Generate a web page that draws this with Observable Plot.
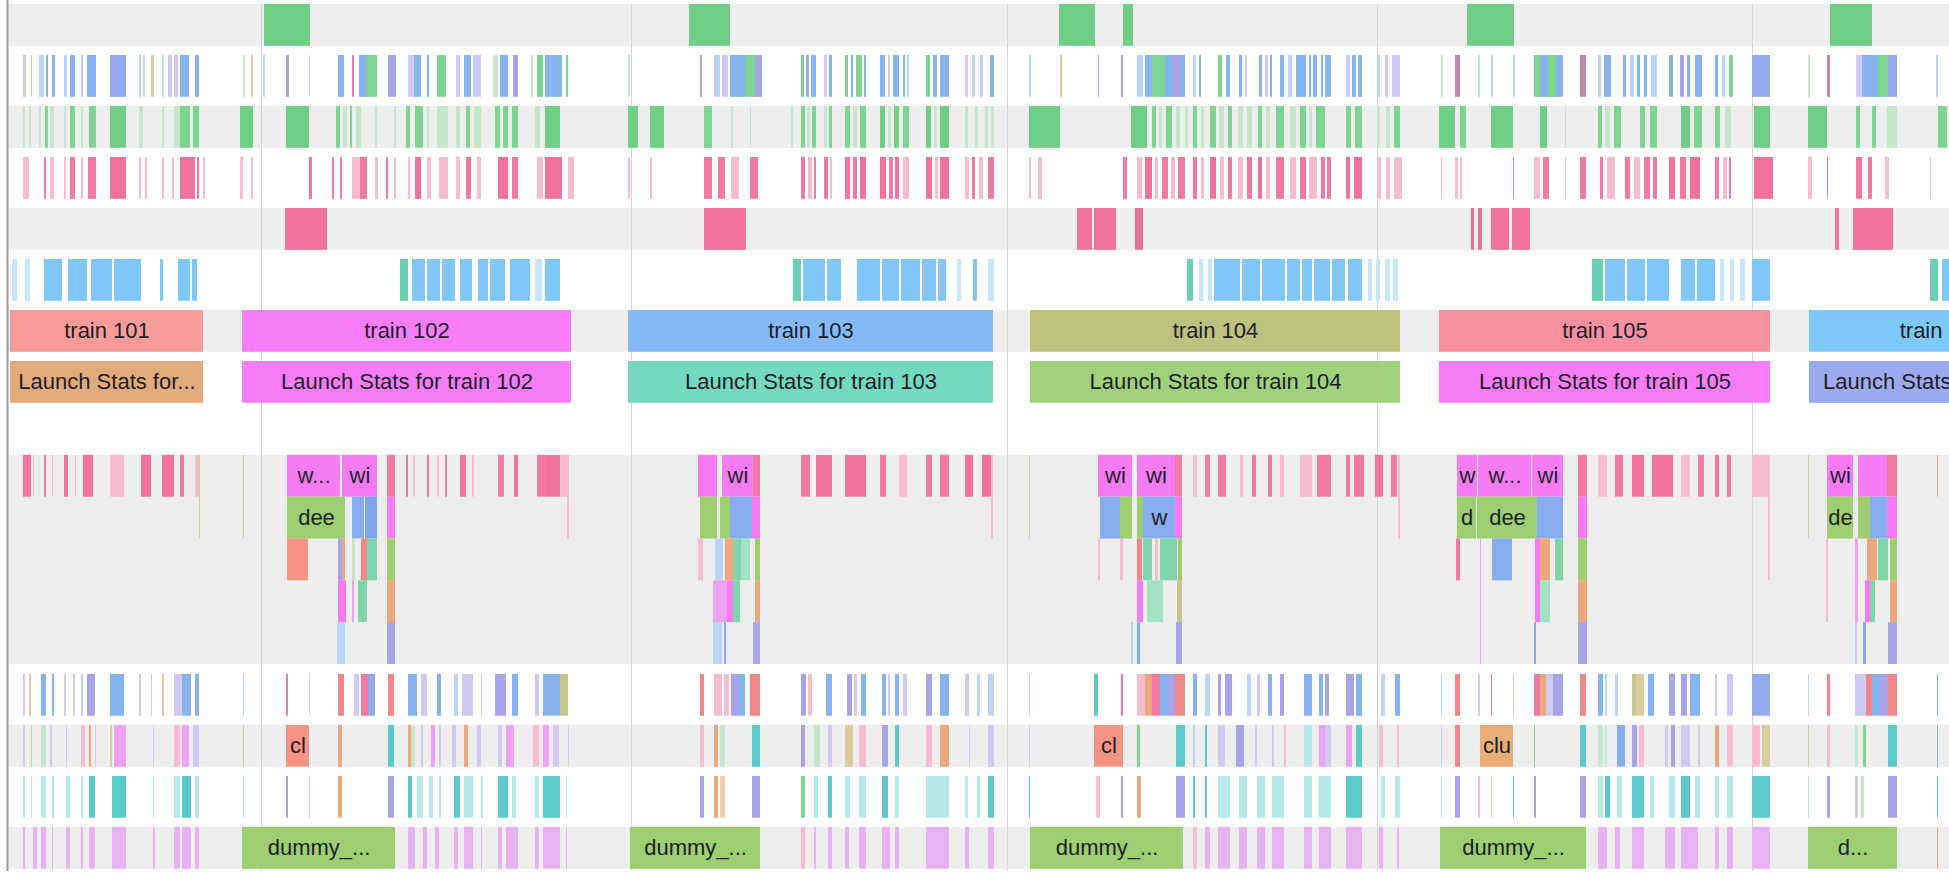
<!DOCTYPE html>
<html>
<head>
<meta charset="utf-8">
<script src="https://cdn.jsdelivr.net/npm/d3@7"></script>
<script src="https://cdn.jsdelivr.net/npm/@observablehq/plot@0.6"></script>
<style>
  html, body { margin: 0; padding: 0; background: #fff; overflow: hidden; }
  svg { overflow: hidden !important; display: block; }
</style>
</head>
<body>
<div id="chart"></div>
<script>
// ---------------- DATA (time in ms from trace start) ----------------
const gridLines = [261, 631, 1007, 1377, 1752];

const trainNames  = ["train 101", "train 102", "train 103", "train 104", "train 105", "train 106"];
const trainStart  = [10, 242, 628, 1030, 1439, 1809];
const trainEnd    = [203, 571, 993, 1400, 1770, 2075];
const launchLabels = ["Launch Stats for...", "Launch Stats for train 102", "Launch Stats for train 103",
                      "Launch Stats for train 104", "Launch Stats for train 105", "Launch Stats for train 106"];
const launchEnd   = [203, 571, 993, 1400, 1770, 2088];

// track 0: GC-like green slices
const row0 = [[264,310,"G"],[689,730,"G"],[1059,1095,"G"],[1123,1133,"G"],[1467,1514,"G"],[1830,1872,"G"]];

const row1 = [
 [23,26,"gy"],[31,32,"be"],[39,44,"lb"],[46,48,"b"],[52,55,"b"],[64,67,"lb"],[70,75,"b"],[81,83,"lp"],[87,96,"b"],[110,126,"bp"],
 [139,141,"lp"],[143,145,"lg"],[151,154,"be"],[162,164,"lg"],[168,172,"lp"],[174,178,"lp"],[180,189,"b"],[195,199,"b"],
 [243,245,"lg"],[251,253,"be"],[263,265,"lb"],[286,289,"pu"],[309,310,"lg"],[338,344,"b"],[352,354,"pk"],[359,366,"b"],[366,377,"g"],
 [388,396,"pu"],[408,414,"lp"],[414,421,"b"],[427,429,"b"],[437,446,"g"],[456,460,"lp"],[464,471,"b"],[473,481,"lp"],[493,498,"lg"],
 [500,508,"b"],[513,518,"pu"],[531,533,"lg"],[537,543,"g"],[545,562,"b"],[566,568,"g"],[628,630,"lg"],
 [700,702,"pu"],[714,720,"lb"],[722,728,"lp"],[730,745,"b"],[745,755,"g"],[755,762,"pu"],[801,804,"g"],[806,809,"pu"],[811,816,"b"],
 [824,827,"lp"],[829,832,"b"],[845,848,"g"],[851,853,"b"],[856,862,"g"],[864,866,"b"],[880,885,"b"],[888,890,"lp"],[893,899,"b"],
 [903,905,"b"],[907,909,"lb"],[926,930,"g"],[933,937,"b"],[940,949,"b"],[965,968,"lp"],[972,975,"lb"],[980,983,"lb"],[990,994,"b"],
 [1029,1031,"lb"],[1060,1062,"be"],[1098,1099,"pu"],[1121,1123,"pu"],[1137,1143,"lb"],[1145,1152,"b"],[1152,1165,"g"],[1165,1172,"b"],
 [1172,1180,"pu"],[1180,1185,"b"],[1193,1196,"lb"],[1199,1201,"b"],[1218,1222,"g"],[1226,1230,"b"],[1239,1242,"b"],[1245,1247,"lb"],
 [1259,1262,"b"],[1265,1268,"lp"],[1270,1272,"b"],[1280,1284,"b"],[1288,1292,"lb"],[1296,1306,"b"],[1309,1311,"b"],[1313,1317,"b"],
 [1321,1323,"b"],[1325,1331,"b"],[1346,1350,"lp"],[1352,1356,"b"],[1358,1362,"b"],[1377,1380,"lb"],[1385,1388,"lp"],[1392,1400,"lp"],
 [1441,1443,"lg"],[1455,1460,"mv"],[1478,1480,"lg"],[1491,1493,"lb"],[1513,1515,"lb"],[1534,1540,"g"],[1540,1548,"b"],[1548,1556,"g"],
 [1556,1563,"b"],[1580,1586,"mv"],[1598,1601,"lb"],[1604,1611,"b"],[1623,1626,"b"],[1630,1634,"lb"],[1637,1640,"b"],[1644,1647,"b"],
 [1651,1657,"lb"],[1669,1673,"b"],[1680,1684,"pu"],[1687,1690,"b"],[1695,1702,"b"],[1715,1718,"b"],[1722,1725,"lb"],[1729,1733,"g"],
 [1752,1770,"bp"],[1808,1810,"lg"],[1827,1830,"mv"],[1856,1862,"lp"],[1862,1878,"b"],[1878,1888,"g"],[1888,1897,"bp"],[1936,1938,"lb"]
];

const row2 = [
 [23,25,"lg"],[29,31,"lg"],[39,41,"lg"],[45,48,"g"],[50,54,"lg"],[64,66,"lg"],[70,75,"g"],[81,83,"lg"],[89,96,"g"],[110,126,"G"],
 [139,143,"lg"],[162,164,"lg"],[174,180,"lg"],[180,190,"g"],[193,199,"g"],[240,253,"G"],[286,309,"G"],[336,340,"g"],[343,347,"lg"],
 [350,352,"g"],[356,361,"lg"],[375,377,"lg"],[394,396,"lg"],[406,410,"g"],[415,423,"g"],[427,429,"lg"],[437,448,"lg"],[456,460,"lg"],
 [466,470,"g"],[474,481,"lg"],[495,500,"g"],[503,508,"g"],[512,518,"g"],[535,540,"lg"],[545,560,"G"],[628,638,"G"],
 [650,664,"G"],[704,712,"g"],[731,733,"lg"],[750,751,"lg"],[791,793,"lg"],[801,805,"g"],[807,810,"lg"],[812,816,"g"],[824,827,"lg"],
 [829,832,"g"],[845,850,"g"],[853,857,"lg"],[860,866,"g"],[880,885,"G"],[888,891,"lg"],[894,899,"G"],[903,909,"g"],[926,931,"G"],
 [934,937,"lg"],[940,949,"G"],[965,968,"lg"],[975,978,"lg"],[985,988,"lg"],[991,994,"lg"],
 [1029,1060,"G"],[1131,1147,"G"],[1152,1156,"g"],[1159,1162,"lg"],[1166,1172,"g"],[1176,1180,"lg"],[1185,1188,"lg"],[1193,1197,"g"],
 [1201,1204,"lg"],[1210,1216,"g"],[1219,1224,"lg"],[1228,1232,"g"],[1238,1243,"lg"],[1247,1252,"lg"],[1258,1262,"g"],[1266,1270,"lg"],
 [1276,1284,"g"],[1290,1296,"lg"],[1300,1306,"g"],[1309,1312,"lg"],[1316,1325,"g"],[1346,1351,"g"],[1355,1362,"g"],[1377,1380,"lg"],
 [1386,1390,"lg"],[1394,1400,"g"],[1439,1455,"G"],[1460,1466,"g"],[1491,1513,"G"],[1540,1547,"G"],[1565,1566,"lg"],[1598,1602,"g"],
 [1605,1610,"lg"],[1614,1621,"g"],[1640,1645,"g"],[1650,1657,"g"],[1681,1690,"G"],[1694,1702,"g"],[1715,1720,"g"],[1725,1731,"lg"],
 [1754,1770,"G"],[1808,1827,"G"],[1856,1860,"g"],[1872,1876,"g"],[1887,1897,"lg"],[1938,1947,"g"]
];

const row3 = [
 [23,29,"lpk"],[44,46,"pk"],[50,54,"lpk"],[64,66,"lpk"],[70,75,"pk"],[81,83,"lpk"],[88,96,"pk"],[110,126,"PK"],[139,141,"lpk"],
 [145,147,"lpk"],[162,164,"lpk"],[172,174,"lpk"],[180,195,"PK"],[197,199,"pk"],[203,205,"lpk"],[240,243,"lpk"],[251,253,"lpk"],
 [309,312,"PK"],[332,334,"pk"],[340,342,"pk"],[352,360,"lpk"],[360,367,"pk"],[375,378,"lpk"],[386,388,"pk"],[394,396,"lpk"],
 [408,410,"lpk"],[415,421,"PK"],[427,431,"lpk"],[439,448,"lpk"],[456,460,"lpk"],[466,471,"pk"],[477,481,"lpk"],[498,508,"PK"],
 [512,518,"pk"],[537,543,"lpk"],[545,562,"PK"],[568,574,"lpk"],[628,630,"lpk"],
 [650,652,"lpk"],[704,712,"pk"],[718,725,"pk"],[731,739,"lpk"],[750,758,"pk"],[801,805,"pk"],[808,812,"lpk"],[814,816,"pk"],
 [824,828,"pk"],[830,832,"lpk"],[845,850,"PK"],[853,857,"pk"],[860,866,"PK"],[880,886,"PK"],[889,893,"pk"],[895,899,"PK"],
 [903,909,"lpk"],[926,932,"PK"],[935,938,"lpk"],[940,949,"PK"],[965,969,"lpk"],[972,975,"pk"],[979,983,"lpk"],[988,994,"pk"],
 [1029,1031,"lpk"],[1038,1042,"lpk"],[1123,1127,"pk"],[1137,1142,"lpk"],[1145,1152,"PK"],[1155,1158,"lpk"],[1162,1168,"pk"],
 [1171,1175,"lpk"],[1178,1185,"pk"],[1193,1197,"pk"],[1201,1204,"lpk"],[1210,1216,"PK"],[1220,1224,"lpk"],[1228,1232,"pk"],
 [1238,1243,"lpk"],[1247,1252,"pk"],[1258,1262,"PK"],[1266,1270,"lpk"],[1276,1284,"pk"],[1290,1296,"lpk"],[1300,1306,"pk"],
 [1309,1317,"lpk"],[1321,1325,"pk"],[1327,1331,"pk"],[1346,1350,"PK"],[1354,1362,"PK"],[1377,1381,"lpk"],[1386,1390,"lpk"],
 [1394,1402,"lpk"],[1441,1442,"lpk"],[1455,1458,"lpk"],[1460,1462,"lpk"],[1513,1514,"pk"],[1534,1540,"lpk"],[1543,1549,"pk"],
 [1565,1566,"lpk"],[1580,1586,"pk"],[1600,1603,"pk"],[1607,1615,"lpk"],[1625,1630,"pk"],[1634,1640,"lpk"],[1644,1650,"pk"],
 [1653,1657,"pk"],[1669,1675,"PK"],[1680,1686,"pk"],[1690,1700,"PK"],[1715,1719,"pk"],[1723,1727,"lpk"],[1729,1731,"pk"],
 [1754,1773,"PK"],[1808,1812,"lpk"],[1827,1828,"pk"],[1856,1862,"pk"],[1868,1872,"pk"],[1885,1889,"lpk"],[1930,1931,"lpk"]
];

const row4 = [[285,327,"PK"],[704,746,"PK"],[1077,1092,"PK"],[1094,1116,"PK"],[1135,1143,"DK"],
              [1471,1474,"DK"],[1478,1482,"DK"],[1491,1509,"PK"],[1512,1530,"PK"],[1835,1839,"PK"],[1853,1893,"PK"]];

const row5 = [
 [12,17,"lb5"],[25,30,"lb5"],[44,62,"b5"],[68,87,"b5"],[91,112,"b5"],[114,141,"b5"],[160,163,"b5"],[178,190,"b5"],[192,197,"b5"],
 [400,408,"t5"],[412,425,"b5"],[427,440,"b5"],[442,455,"b5"],[460,472,"b5"],[478,488,"b5"],[490,505,"b5"],[510,530,"b5"],
 [535,542,"lb5"],[545,560,"b5"],
 [793,801,"t5"],[803,825,"b5"],[827,841,"b5"],[857,880,"b5"],[882,899,"b5"],[901,920,"b5"],[922,936,"b5"],[938,946,"b5"],
 [957,961,"lb5"],[973,977,"b5"],[988,994,"lb5"],
 [1187,1193,"t5"],[1199,1203,"lb5"],[1208,1212,"lb5"],[1214,1240,"b5"],[1242,1260,"b5"],[1262,1285,"b5"],[1287,1300,"b5"],
 [1302,1312,"b5"],[1314,1330,"b5"],[1332,1345,"b5"],[1348,1362,"b5"],[1368,1372,"lb5"],[1376,1380,"lb5"],[1385,1390,"lb5"],[1393,1398,"lb5"],
 [1592,1603,"t5"],[1605,1625,"b5"],[1627,1645,"b5"],[1647,1669,"b5"],[1681,1695,"b5"],[1697,1715,"b5"],[1720,1724,"lb5"],
 [1730,1734,"lb5"],[1740,1745,"lb5"],[1752,1770,"b5"],[1930,1938,"t5"],[1942,1949,"b5"]
];

// flame chart slices: [fromDepth, toDepth, start, end, colour, label]
const flame = [
 [0,0,23,31,"PK"],[0,0,33,34,"lpk"],[0,0,44,46,"pk"],[0,0,52,53,"lpk"],[0,0,64,68,"PK"],[0,0,75,76,"lpk"],[0,0,83,93,"PK"],
 [0,0,110,124,"lpk"],[0,0,141,151,"PK"],[0,0,162,174,"PK"],[0,0,180,184,"pk"],[0,0,195,199,"lpk"],[0,1,199,200,"be"],[0,1,243,244,"be"],
 [0,0,406,408,"PK"],[0,0,413,415,"lpk"],[0,0,427,429,"pk"],[0,0,437,439,"lpk"],[0,0,445,447,"pk"],[0,0,460,466,"PK"],[0,0,472,474,"lpk"],
 [0,0,498,504,"pk"],[0,0,514,518,"PK"],[0,0,537,545,"pk"],[0,0,545,560,"PK"],[0,0,560,567,"lpk"],[0,1,567,569,"lpk"],
 [0,0,801,810,"pk"],[0,0,816,832,"PK"],[0,0,845,866,"PK"],[0,0,880,886,"pk"],[0,0,899,907,"lpk"],[0,0,926,932,"pk"],[0,0,940,949,"pk"],
 [0,0,965,973,"PK"],[0,0,982,991,"PK"],[0,1,991,993,"lpk"],[0,1,1029,1030,"be"],
 [0,0,1193,1197,"lpk"],[0,0,1205,1210,"pk"],[0,0,1218,1226,"pk"],[0,0,1240,1243,"lpk"],[0,0,1252,1256,"pk"],[0,0,1268,1272,"pk"],
 [0,0,1280,1284,"lpk"],[0,0,1300,1312,"lpk"],[0,0,1317,1331,"pk"],[0,0,1346,1350,"pk"],[0,0,1354,1364,"pk"],[0,0,1375,1383,"PK"],
 [0,0,1391,1397,"pk"],[0,1,1398,1400,"lpk"],[0,0,1598,1607,"lpk"],[0,0,1615,1623,"pk"],[0,0,1632,1644,"PK"],[0,0,1652,1673,"PK"],
 [0,0,1681,1690,"lpk"],[0,0,1698,1704,"pk"],[0,0,1715,1719,"pk"],[0,0,1727,1731,"pk"],[0,0,1752,1768,"lpk"],[0,2,1768,1770,"lpk"],
 [0,1,1808,1809,"be"],[0,0,1937,1938,"o"],
 // burst 1
 [0,0,287,340,"m","w..."],[0,0,342,377,"m","wi"],[0,0,387,395,"pk"],
 [1,1,287,345,"gr","dee"],[1,1,352,364,"bl"],[1,1,365,377,"bl2"],[1,1,387,395,"m"],
 [2,2,287,308,"sa"],[2,2,338,342,"pu"],[2,2,342,345,"o"],[2,2,352,355,"lg"],[2,2,361,367,"r"],[2,2,367,377,"tg"],[2,2,387,395,"gr"],
 [3,3,338,346,"m"],[3,3,352,354,"lm"],[3,3,358,367,"tg"],[3,3,387,395,"o"],
 [4,4,337,345,"lb"],[4,4,387,395,"pu"],
 // burst 2
 [0,0,698,717,"m"],[0,0,722,753,"m","wi"],[0,0,753,760,"pk"],
 [1,1,700,717,"gr"],[1,1,720,730,"gr"],[1,1,730,752,"bl"],[1,1,752,760,"m"],
 [2,2,698,703,"lpk"],[2,2,715,723,"lb"],[2,2,725,733,"o"],[2,2,733,741,"tg"],[2,2,741,750,"tg2"],[2,2,755,760,"gr"],
 [3,3,713,727,"lm"],[3,3,727,733,"m"],[3,3,733,740,"tg"],[3,3,755,760,"o"],
 [4,4,713,722,"lb"],[4,4,724,726,"bl"],[4,4,753,760,"pu"],
 // burst 3
 [0,0,1098,1132,"m","wi"],[0,0,1137,1175,"m","wi"],[0,0,1175,1182,"pk"],
 [1,1,1100,1120,"bl"],[1,1,1120,1132,"gr"],[1,1,1137,1143,"gr"],[1,1,1143,1175,"bl","w"],[1,1,1175,1182,"m"],
 [2,2,1098,1100,"lpk"],[2,2,1120,1123,"lpk"],[2,2,1137,1142,"r"],[2,2,1143,1152,"tg"],[2,2,1155,1158,"lpk"],[2,2,1160,1177,"tg"],[2,2,1178,1182,"gr"],
 [3,3,1137,1143,"m"],[3,3,1147,1163,"tg2"],[3,3,1177,1182,"ol"],
 [4,4,1131,1133,"lb"],[4,4,1137,1140,"bl"],[4,4,1176,1182,"pu"],
 // burst 4
 [0,0,1457,1477,"m","w"],[0,0,1478,1531,"m","w..."],[0,0,1532,1563,"m","wi"],[0,0,1578,1587,"pk"],
 [1,1,1457,1476,"gr","d"],[1,1,1477,1537,"gr","dee"],[1,1,1537,1563,"bl"],[1,1,1578,1587,"m"],
 [2,2,1456,1460,"pk"],[2,4,1480,1481,"lm"],[2,2,1492,1512,"bl"],[2,3,1535,1540,"m"],[2,2,1540,1550,"o"],[2,2,1555,1563,"tg"],[2,2,1578,1587,"gr"],
 [3,3,1540,1550,"tg2"],[3,3,1578,1587,"o"],
 [4,4,1534,1536,"bl"],[4,4,1578,1587,"pu"],
 // burst 5
 [0,0,1827,1853,"m","wi"],[0,0,1858,1887,"m"],[0,0,1887,1897,"pk"],
 [1,1,1827,1853,"gr","de"],[1,1,1858,1870,"gr"],[1,1,1870,1887,"bl"],[1,1,1887,1897,"m"],
 [2,3,1826,1828,"lpk"],[2,3,1855,1858,"lm"],[2,2,1867,1877,"o"],[2,2,1878,1888,"tg"],[2,2,1890,1897,"gr"],
 [3,3,1865,1870,"m"],[3,3,1870,1875,"tg"],[3,3,1890,1897,"o"],
 [4,4,1855,1857,"lb"],[4,4,1863,1866,"bl"],[4,4,1888,1897,"pu"]
];

const row9 = [
 [23,25,"lp"],[29,31,"be"],[41,46,"b"],[52,54,"b"],[64,66,"lp"],[73,75,"lp"],[81,83,"lp"],[87,95,"pu"],[110,124,"b"],[139,141,"lp"],
 [151,152,"lp"],[162,164,"be"],[174,182,"lp"],[182,191,"b"],[195,199,"b"],[243,244,"lb"],[286,288,"pk"],[309,310,"lg"],[338,344,"r"],
 [354,359,"lp"],[361,368,"pk"],[368,375,"bp"],[388,394,"r"],[408,417,"b"],[421,427,"lp"],[437,441,"b"],[454,458,"lb"],[462,473,"lp"],
 [481,482,"lp"],[495,506,"pu"],[512,518,"b"],[535,539,"lp"],[543,560,"b"],[560,568,"ol"],
 [700,704,"r"],[714,722,"lpk"],[724,729,"lpk"],[731,738,"pu"],[738,745,"b"],[750,760,"r"],[801,806,"pu"],[808,812,"lpk"],[826,832,"b"],
 [847,852,"pu"],[854,857,"lp"],[861,866,"b"],[882,886,"b"],[888,890,"lp"],[895,899,"b"],[903,907,"lp"],[926,932,"pu"],[940,949,"b"],
 [965,969,"lp"],[977,980,"lb"],[988,994,"lb"],[1029,1030,"lb"],[1094,1098,"t"],[1121,1123,"pk"],[1137,1145,"lpk"],[1145,1152,"o"],
 [1152,1160,"pk"],[1160,1168,"b"],[1168,1175,"pu"],[1175,1185,"r"],[1193,1197,"b"],[1205,1210,"lb"],[1218,1221,"pu"],[1225,1232,"pu"],
 [1247,1251,"lb"],[1257,1260,"lp"],[1268,1272,"b"],[1280,1284,"pu"],[1304,1312,"b"],[1319,1323,"b"],[1325,1329,"pu"],[1346,1354,"pu"],
 [1356,1362,"b"],[1381,1385,"lb"],[1395,1400,"b"],[1441,1442,"lb"],[1455,1460,"r"],[1478,1480,"lp"],[1491,1492,"pk"],[1513,1514,"lb"],
 [1534,1540,"pk"],[1540,1546,"o"],[1546,1553,"lp"],[1553,1563,"pu"],[1580,1586,"r"],[1598,1603,"b"],[1605,1607,"lb"],[1615,1618,"lb"],
 [1632,1636,"ol"],[1636,1644,"be"],[1648,1654,"b"],[1669,1675,"pu"],[1681,1687,"pu"],[1690,1700,"b"],[1715,1717,"lp"],[1727,1733,"lp"],
 [1752,1770,"bp"],[1808,1809,"lb"],[1827,1830,"r"],[1855,1866,"lp"],[1866,1872,"r"],[1872,1880,"b"],[1880,1888,"pu"],[1888,1897,"r"],
 [1937,1938,"b"]
];

const row10 = [
 [23,25,"lp"],[31,32,"be"],[41,46,"lg"],[50,52,"lp"],[66,67,"lp"],[81,85,"lpk"],[89,91,"o"],[95,96,"lp"],[110,112,"be"],[114,126,"lm"],
 [153,154,"lp"],[174,180,"lpk"],[182,189,"lm"],[193,199,"lp"],[243,244,"be"],[286,309,"sa","cl"],[338,342,"o"],[388,394,"t"],
 [408,411,"o"],[411,415,"lg"],[421,423,"lp"],[431,435,"lm"],[439,441,"lp"],[452,456,"lp"],[464,468,"o"],[477,481,"lp"],[498,502,"lp"],
 [506,514,"lm"],[533,539,"lpk"],[543,549,"lm"],[553,559,"lp"],[568,569,"lp"],
 [700,704,"lpk"],[714,718,"o"],[720,725,"lg"],[752,760,"t"],[801,805,"pu"],[814,820,"lg"],[828,832,"lp"],[845,853,"be"],[859,866,"lpk"],
 [882,888,"pu"],[895,899,"t"],[926,932,"lpk"],[940,949,"o"],[969,970,"lp"],[988,994,"lp"],[1029,1030,"lp"],[1094,1123,"sa","cl"],
 [1137,1140,"g"],[1176,1185,"t"],[1193,1195,"lb"],[1205,1207,"t"],[1218,1225,"lp"],[1236,1244,"pu"],[1255,1257,"lp"],[1272,1274,"lp"],
 [1284,1286,"lpk"],[1304,1312,"lt"],[1319,1325,"lm"],[1325,1331,"lp"],[1346,1352,"lm"],[1356,1362,"t"],[1379,1383,"lpk"],[1397,1399,"lpk"],
 [1441,1442,"lp"],[1455,1460,"r"],[1480,1513,"ta","clu"],[1534,1535,"g"],[1580,1586,"t"],[1598,1603,"lg"],[1605,1607,"lt"],[1617,1625,"bl"],
 [1632,1637,"pu"],[1639,1644,"lpk"],[1665,1668,"lp"],[1671,1675,"pu"],[1681,1690,"lp"],[1698,1700,"lp"],[1715,1719,"o"],[1727,1733,"lpk"],
 [1752,1760,"lpk"],[1762,1770,"be"],[1808,1809,"be"],[1827,1830,"lpk"],[1855,1858,"lg"],[1863,1866,"g"],[1888,1897,"t"],[1937,1938,"b"]
];

const row11 = [
 [23,25,"lt"],[31,32,"lt"],[41,46,"lt"],[52,54,"lt"],[66,70,"lt"],[81,83,"lt"],[89,95,"t"],[112,126,"t"],[153,154,"lt"],[174,180,"lt"],
 [182,191,"t"],[195,199,"lt"],[243,244,"lt"],[286,288,"pu"],[309,310,"lpk"],[338,342,"ta"],[388,394,"pu"],[408,412,"t"],[417,423,"lt"],
 [429,433,"lt"],[439,441,"lt"],[454,460,"t"],[464,473,"lt"],[481,483,"lt"],[498,508,"t"],[512,516,"lt"],[535,539,"lt"],[543,560,"t"],
 [566,567,"lt"],
 [700,704,"pu"],[714,718,"o"],[720,725,"lo"],[752,760,"pu"],[801,805,"g"],[814,818,"lt"],[828,832,"t"],[845,850,"lt"],[859,866,"lt"],
 [882,888,"t"],[895,899,"lt"],[926,949,"lt"],[965,968,"lt"],[977,980,"lt"],[988,994,"t"],[1029,1030,"t"],[1096,1100,"lpk"],
 [1121,1123,"pu"],[1137,1141,"o"],[1176,1185,"pu"],[1193,1195,"t"],[1205,1207,"t"],[1218,1230,"lt"],[1239,1247,"lt"],[1257,1265,"lt"],
 [1272,1284,"lt"],[1304,1312,"lt"],[1319,1331,"lt"],[1346,1362,"t"],[1381,1385,"lt"],[1395,1400,"lt"],[1441,1442,"lt"],[1455,1460,"pu"],
 [1478,1480,"lpk"],[1491,1492,"lo"],[1513,1514,"t"],[1534,1536,"pu"],[1580,1586,"pu"],[1598,1603,"lt"],[1605,1610,"t"],[1617,1622,"lt"],
 [1632,1644,"t"],[1650,1654,"lt"],[1669,1675,"lt"],[1681,1690,"t"],[1695,1700,"lt"],[1715,1719,"lt"],[1727,1733,"lt"],[1752,1770,"t"],
 [1808,1809,"lt"],[1827,1830,"pu"],[1855,1858,"gy"],[1861,1864,"lg"],[1888,1897,"pu"],[1937,1938,"t"]
];

const row12 = [
 [23,25,"lmg"],[33,37,"lmg"],[41,46,"lmg"],[52,53,"lmg"],[66,70,"lmg"],[81,83,"lmg"],[89,95,"lmg"],[112,126,"lmg"],[153,155,"lmg"],
 [174,180,"lmg"],[182,191,"lmg"],[195,199,"lmg"],[242,395,"gr","dummy_..."],[408,415,"lmg"],[423,427,"lmg"],[435,439,"lmg"],
 [454,458,"lmg"],[464,473,"lmg"],[481,482,"lmg"],[498,502,"lmg"],[506,518,"lmg"],[535,539,"lmg"],[543,560,"lmg"],[566,567,"lmg"],
 [630,760,"gr","dummy_..."],[801,805,"lpk"],[814,816,"lmg"],[828,832,"lmg"],[845,849,"lmg"],[859,866,"lmg"],[882,890,"lmg"],
 [895,899,"lmg"],[926,949,"lmg"],[965,969,"lmg"],[988,994,"lmg"],[1030,1183,"gr","dummy_..."],[1193,1197,"lpk"],[1205,1210,"lmg"],
 [1218,1230,"lmg"],[1239,1247,"lmg"],[1257,1265,"lmg"],[1272,1284,"lmg"],[1304,1312,"lmg"],[1319,1331,"lmg"],[1346,1362,"lmg"],
 [1379,1383,"lmg"],[1397,1399,"lmg"],[1440,1586,"gr","dummy_..."],[1598,1607,"lmg"],[1615,1620,"lmg"],[1632,1644,"lmg"],
 [1665,1675,"lmg"],[1681,1698,"lmg"],[1715,1719,"lmg"],[1727,1733,"lmg"],[1752,1770,"lmg"],[1808,1897,"gr","d..."],[1937,1938,"o"]
];

// ---------------- STYLE ----------------
const palette = {
  m:"#f67bf5", pk:"#f27aa2", PK:"#f0729d", DK:"#e8739a", lpk:"#f8bcd0", gr:"#9dce70", bl:"#86adf0", bl2:"#7ca7ec",
  sa:"#f59485", pu:"#a9a4e8", o:"#eda77f", lo:"#f5cfb0", tg:"#80d6aa", tg2:"#a3e3c3", lm:"#eea2f4", lb:"#bad4f5", ol:"#c7c58e",
  r:"#f2878a", be:"#dccb9c", lg:"#c6e7cb", g:"#7fd492", G:"#70cf87", b:"#87b4ee", bp:"#94a8ee", lp:"#d0c9f4", gy:"#cfcfcf",
  mv:"#c08aa8", b5:"#80c7f9", lb5:"#c8e6fb", t5:"#6bcfb4", t:"#5ccaca", lt:"#b6eaea", lmg:"#e6b2f2", ta:"#e9ad76"
};
const trainColors  = ["#f79c96", "#f97df8", "#83b9f6", "#bec27f", "#f8919f", "#7fc9f8"];
const launchColors = ["#e3ab7c", "#f97df8", "#73d9c0", "#a0d27b", "#f97df8", "#9caaef"];
const BG = "#eeeeee";
const FONT = "Liberation Sans, Arial, Helvetica, sans-serif";

// ---------------- LAYOUT (lane units; 1 unit = one track pitch) ----------------
const BAR = 0.82;
const laneTop = {};
for (let i = 0; i <= 8; i++) laneTop["r" + i] = i;
const flameTop = 8 + BAR + 0.02;
for (let d = 0; d < 5; d++) laneTop["f" + d] = flameTop + BAR * d;
const lowTop = flameTop + 5 * BAR + 0.196;
["r9", "r10", "r11", "r12"].forEach((k, i) => laneTop[k] = lowTop + i);
const UNITS = 17;

const T0 = 7, T1 = 1949;
const bands = [
  {y1: laneTop.r0, y2: laneTop.r0 + BAR}, {y1: laneTop.r2, y2: laneTop.r2 + BAR},
  {y1: laneTop.r4, y2: laneTop.r4 + BAR}, {y1: laneTop.r6, y2: laneTop.r6 + BAR},
  {y1: flameTop, y2: flameTop + 5 * BAR}, {y1: laneTop.r10, y2: laneTop.r10 + BAR},
  {y1: laneTop.r12, y2: laneTop.r12 + BAR}
];

const slices = [];
const addRow = (lane, arr) => arr.forEach(([s, e, c, label]) =>
  slices.push({x1: s, x2: e, y1: laneTop[lane], y2: laneTop[lane] + BAR, fill: palette[c], label}));
addRow("r0", row0); addRow("r1", row1); addRow("r2", row2); addRow("r3", row3);
addRow("r4", row4); addRow("r5", row5);
addRow("r9", row9); addRow("r10", row10); addRow("r11", row11); addRow("r12", row12);
flame.forEach(([d0, d1, s, e, c, label]) =>
  slices.push({x1: s, x2: e, y1: laneTop["f" + d0], y2: laneTop["f" + d1] + BAR, fill: palette[c], label}));
trainNames.forEach((n, i) => {
  slices.push({x1: trainStart[i], x2: trainEnd[i], y1: laneTop.r6, y2: laneTop.r6 + BAR, fill: trainColors[i], label: n});
  slices.push({x1: trainStart[i], x2: launchEnd[i], y1: laneTop.r7, y2: laneTop.r7 + BAR, fill: launchColors[i], label: launchLabels[i]});
});
const labelled = slices.filter(d => d.label);

const chart = Plot.plot({
  width: 1949,
  height: 874,
  margin: 0,
  style: {background: "#ffffff", overflow: "hidden"},
  x: {domain: [0, 1949], range: [0, 1949], axis: null},
  y: {domain: [0, UNITS], range: [4, 4 + 51 * UNITS], axis: null},
  marks: [
    Plot.rect(bands, {x1: T0, x2: T1, y1: "y1", y2: "y2", fill: BG}),
    Plot.ruleX(gridLines, {y1: 0, y2: UNITS, stroke: "#d6d6d6", strokeWidth: 1}),
    Plot.ruleX([T0], {y1: -0.1, y2: UNITS, stroke: "#9b9b9b", strokeWidth: 2}),
    Plot.rect(slices, {x1: "x1", x2: "x2", y1: "y1", y2: "y2", fill: "fill", clip: true}),
    Plot.text(labelled, {
      x: d => (d.x1 + d.x2) / 2, y: d => (d.y1 + d.y2) / 2, text: "label",
      fill: "#1e1e28", fontSize: 22, fontFamily: FONT, textAnchor: "middle", lineAnchor: "middle", clip: true
    })
  ]
});
document.getElementById("chart").appendChild(chart);
</script>
</body>
</html>
